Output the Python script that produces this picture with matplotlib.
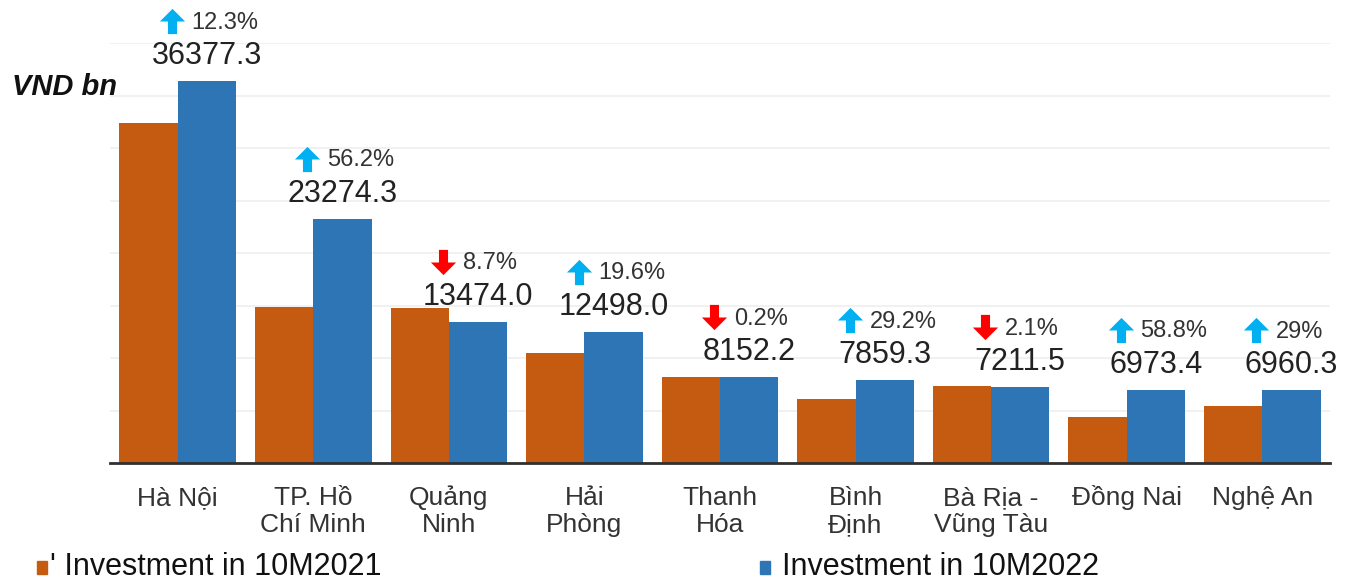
import numpy as np
import matplotlib
matplotlib.use('Agg')
import matplotlib.pyplot as plt
import matplotlib.transforms as mtrans
from matplotlib.path import Path
from matplotlib.patches import Rectangle
from matplotlib import font_manager

# data
provinces = ['Hà Nội', 'TP. Hồ\nChí Minh', 'Quảng\nNinh', 'Hải\nPhòng', 'Thanh\nHóa',
             'Bình\nĐịnh', 'Bà Rịa -\nVũng Tàu', 'Đồng Nai', 'Nghệ An']
inv_2021 = [32390, 14900, 14760, 10450, 8170, 6080, 7370, 4390, 5400]
inv_2022 = [36377.3, 23274.3, 13474.0, 12498.0, 8152.2, 7859.3, 7211.5, 6973.4, 6960.3]
change = ['12.3%', '56.2%', '8.7%', '19.6%', '0.2%', '29.2%', '2.1%', '58.8%', '29%']
is_up = [True, True, False, True, False, True, False, True, True]

ORANGE = '#C55A11'
BLUE = '#2E75B6'
UP = '#00B0F0'
DOWN = '#FF0000'
TXT = '#333333'

names = {f.name for f in font_manager.fontManager.ttflist}
narrow = 'Liberation Sans Narrow' if 'Liberation Sans Narrow' in names else 'Liberation Sans'
plt.rcParams['font.family'] = ['Liberation Sans', 'DejaVu Sans']

fig = plt.figure(figsize=(13.52, 5.81), dpi=100)
ax = fig.add_axes([110/1352, 1-463/581, 1220/1352, 420/581])

x = np.arange(len(provinces))
w = 0.43
ax.bar(x - w/2, inv_2021, w, color=ORANGE, zorder=2)
ax.bar(x + w/2, inv_2022, w, color=BLUE, zorder=2)

ax.set_xlim(-0.5, len(provinces) - 0.5)
ax.set_ylim(0, 40000)
ax.set_yticks(np.arange(5000, 40001, 5000))
ax.yaxis.grid(True, color='#EFEFEF', lw=1.2, zorder=0)
ax.tick_params(axis='y', length=0, labelleft=False)
ax.set_xticks(x)
ax.set_xticklabels([])
ax.tick_params(axis='x', length=0)
for s in ['top', 'right', 'left']:
    ax.spines[s].set_visible(False)
ax.spines['bottom'].set_color('#303030')
ax.spines['bottom'].set_linewidth(2)

# category labels, line by line so every first line sits on the same baseline
base = mtrans.blended_transform_factory(ax.transData, ax.transAxes)
for i, name in enumerate(provinces):
    for j, line in enumerate(name.split('\n')):
        tr = mtrans.offset_copy(base, fig=fig, x=0, y=-(42 + 27*j), units='dots')
        ax.text(x[i], 0, line, transform=tr, ha='center', va='baseline',
                fontsize=19, color=TXT)

# block arrow markers
up_arrow = Path([(-0.18, -0.5), (0.18, -0.5), (0.18, 0.0), (0.5, 0.0), (0.0, 0.5),
                 (-0.5, 0.0), (-0.18, 0.0), (-0.18, -0.5)], closed=True)
down_arrow = Path([(px, -py) for px, py in up_arrow.vertices], closed=True)

for i in range(len(provinces)):
    xb = x[i] + w/2
    top = inv_2022[i]
    ax.annotate(f'{inv_2022[i]:.1f}', (xb, top), xytext=(0, 18), textcoords='offset points',
                ha='center', va='center', fontsize=22, color='#222222')
    ax.annotate(change[i], (xb, top), xytext=(-11, 42), textcoords='offset points',
                ha='left', va='center', fontsize=17, color=TXT)
    tr = mtrans.offset_copy(ax.transData, fig=fig, x=-35, y=60, units='dots')
    ax.scatter([xb], [top], marker=up_arrow if is_up[i] else down_arrow, s=330,
               color=UP if is_up[i] else DOWN, transform=tr, clip_on=False, zorder=3,
               linewidths=0)

fig.text(12/1352, 1-87/581, 'VND bn', fontsize=21, fontweight='bold', fontstyle='italic',
         va='center', ha='left', color='#111111')

# legend
fig.patches.append(Rectangle((37/1352, 1-574/581), 10/1352, 13/581, color=ORANGE,
                             transform=fig.transFigure, figure=fig))
fig.text(50/1352, 1-567/581, "' Investment in 10M2021", fontsize=22, family=[narrow, 'DejaVu Sans'],
         va='center', ha='left', color='#111111')
fig.patches.append(Rectangle((760/1352, 1-574/581), 10/1352, 13/581, color=BLUE,
                             transform=fig.transFigure, figure=fig))
fig.text(782/1352, 1-567/581, 'Investment in 10M2022', fontsize=22, family=[narrow, 'DejaVu Sans'],
         va='center', ha='left', color='#111111')

fig.savefig('out.png', dpi=100)
